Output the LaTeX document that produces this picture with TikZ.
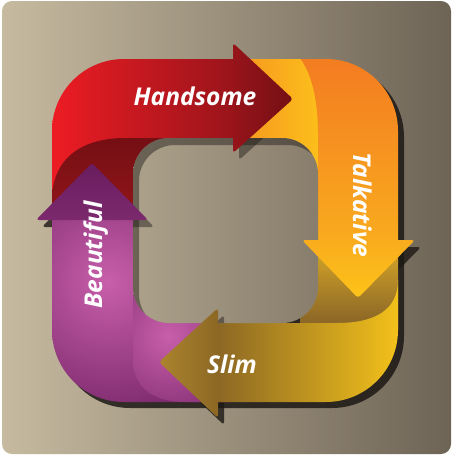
\documentclass[tikz,border=0pt]{standalone}
\usepackage{fontspec}
\setsansfont{Open Sans}

\definecolor{bgleft}{RGB}{198,186,160}
\definecolor{bgright}{RGB}{110,100,86}
\definecolor{shadowcol}{RGB}{28,24,20}
\definecolor{redlight}{RGB}{237,28,36}
\definecolor{redmid}{RGB}{150,20,26}
\definecolor{reddark}{RGB}{116,15,20}
\definecolor{redfold}{RGB}{150,22,26}
\definecolor{orangetop}{RGB}{243,122,33}
\definecolor{orangemid}{RGB}{249,172,30}
\definecolor{orangetip}{RGB}{253,196,24}
\definecolor{stripleft}{RGB}{246,150,32}
\definecolor{stripright}{RGB}{252,192,26}
\definecolor{foldtop}{RGB}{215,168,40}
\definecolor{foldbottom}{RGB}{132,96,38}
\definecolor{goldtip}{RGB}{172,132,46}
\definecolor{golddark}{RGB}{140,104,36}
\definecolor{goldlight}{RGB}{246,196,26}
\definecolor{purplelight}{RGB}{200,95,170}
\definecolor{purpledark}{RGB}{105,28,95}

% arrow heads
\newcommand\headhandsome{(233,43) -- (293,99) -- (233,153) -- cycle}
\newcommand\headtalkative{(302,240) -- (415,240) -- (358,298) -- cycle}
\newcommand\headslim{(218,308) -- (159,362) -- (218,418) -- cycle}
\newcommand\headbeautiful{(36,220) -- (92,163) -- (148,220) -- cycle}

\begin{document}
\begin{tikzpicture}[x=1pt,y=-1pt,
  word/.style={text=white,inner sep=0pt,anchor=base,
    font=\sffamily\bfseries\itshape\fontsize{24.5}{24.5}\selectfont},
  headshadow/.style={fill=shadowcol,opacity=.8,rounded corners=3pt,shift={(6,7)}},
  head/.style={rounded corners=3pt}
  ]
  \useasboundingbox (0,0) rectangle (451,455);
  \shade[left color=bgleft,right color=bgright,rounded corners=10pt] (2,1) rectangle (451,454);

  % shadows on the background
  \fill[shadowcol,opacity=.85,rounded corners=72pt] (58,65) rectangle (404,408);
  \fill[headshadow] \headtalkative;
  \fill[headshadow] \headslim;
  \fill[headshadow] \headbeautiful;

  % the ring
  \begin{scope}
    \clip[rounded corners=72pt] (52,59) rectangle (398,402);
    \shade[left color=redlight,right color=redmid] (52,59) rectangle (240,215);
    \shade[top color=reddark,bottom color=redfold]
      (52,200) .. controls (52,160) and (80,138) .. (125,138) -- (175,138) -- (175,225) -- (52,225) -- cycle;
    \shade[left color=stripleft,right color=stripright] (236,59) rectangle (320,200);
    \shade[top color=orangetop,bottom color=orangemid]
      (293,50) .. controls (312,68) and (318,100) .. (318,135) -- (318,245) -- (405,245) -- (405,50) -- cycle;
    \shade[top color=foldtop,bottom color=foldbottom] (300,245) rectangle (405,330);
    \begin{scope}
      \clip (40,215) rectangle (230,410);
      \shade[inner color=purplelight,outer color=purpledark] (108,282) circle (170pt);
    \end{scope}
    \begin{scope}
      \clip (133,290) -- (133,360) .. controls (133,385) and (150,402) .. (185,402) -- (230,402) -- (230,290) -- cycle;
      \shade[inner color=purplelight,outer color=purpledark] (168,336) circle (120pt);
    \end{scope}
    \shade[left color=golddark,right color=goldlight]
      (218,323) -- (337,323) .. controls (375,323) and (398,310) .. (398,280) -- (405,280) -- (405,410) -- (218,410) -- cycle;
  \end{scope}

  % the hole
  \begin{scope}
    \clip[rounded corners=36pt] (133,138) rectangle (318,323);
    \shade[left color=bgleft,right color=bgright,rounded corners=10pt] (2,1) rectangle (451,454);
    \fill[shadowcol,opacity=.45,even odd rule,rounded corners=36pt]
      (100,100) rectangle (360,360) (139,145) rectangle (324,330);
    \fill[headshadow,opacity=.45] \headhandsome;
    \fill[headshadow,opacity=.45] \headslim;
    \fill[headshadow,opacity=.45] \headbeautiful;
  \end{scope}

  % the heads
  \shade[head,left color=redmid,right color=reddark] \headhandsome;
  \shade[head,top color=orangemid,bottom color=orangetip] \headtalkative;
  \shade[head,left color=goldtip,right color=golddark] \headslim;
  \shade[head,top color=purpledark,bottom color=purpledark!80!purplelight] \headbeautiful;

  \node[word] (handsome) at (195,105) {Handsome};
  \node[word,rotate=-90] (talkative) at (353,205) {Talkative};
  \node[word,rotate=90] (beautiful) at (102,255) {Beautiful};
  \node[word] (slim) at (232,373) {Slim};
\end{tikzpicture}
\end{document}
